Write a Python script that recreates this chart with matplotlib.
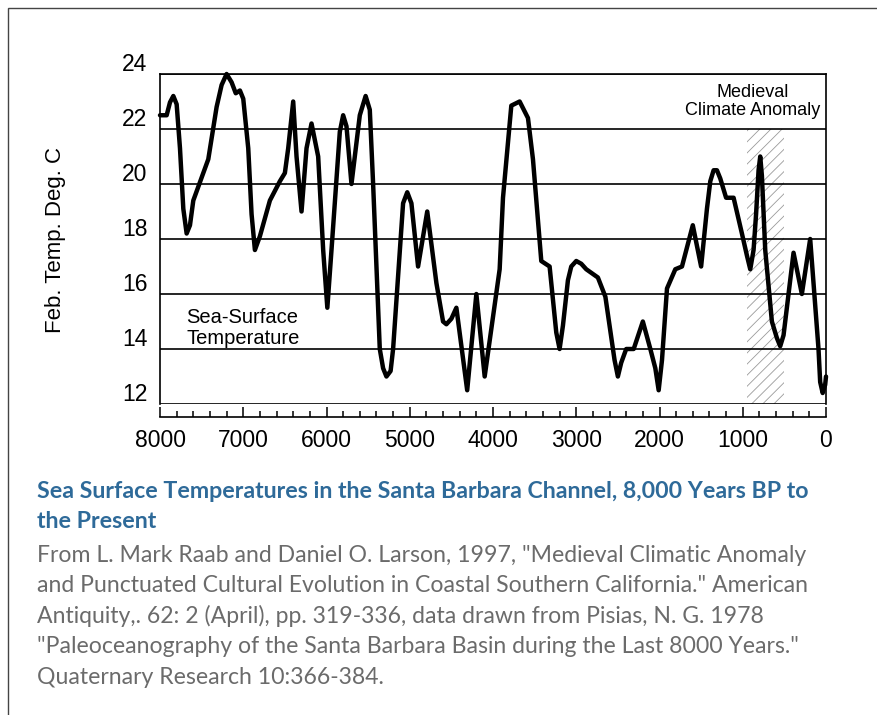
import numpy as np
import matplotlib
matplotlib.use("Agg")
import matplotlib.pyplot as plt
from matplotlib.transforms import ScaledTranslation
from matplotlib.patches import Rectangle

# years BP and February sea-surface temperature
years = [8000, 7920, 7880, 7840, 7800, 7760, 7720, 7680, 7640, 7600, 7420, 7320,
         7260, 7200, 7140, 7090, 7040, 7000, 6940, 6900, 6860, 6800, 6680, 6560,
         6500, 6460, 6400, 6360, 6300, 6240, 6180, 6100, 6040, 5990, 5940, 5840,
         5800, 5760, 5700, 5600, 5530, 5480, 5440, 5360, 5320, 5280, 5230, 5200,
         5080, 5030, 4980, 4900, 4790, 4680, 4600, 4560, 4500, 4440, 4310, 4200,
         4100, 3920, 3880, 3780, 3680, 3580, 3520, 3420, 3320, 3240, 3200, 3160,
         3100, 3060, 3000, 2940, 2880, 2740, 2650, 2540, 2500, 2460, 2400, 2310,
         2200, 2110, 2050, 2010, 1970, 1910, 1810, 1730, 1600, 1500, 1430, 1390,
         1350, 1310, 1270, 1200, 1110, 1010, 950, 910, 870, 840, 810, 790,
         770, 730, 650, 590, 550, 510, 390, 290, 190, 90, 70, 40, 10, 0]
temps = [22.5, 22.5, 22.97, 23.2, 22.9, 21.3, 19.1, 18.2, 18.5, 19.4, 20.9, 22.8,
         23.6, 24.0, 23.7, 23.3, 23.4, 23.1, 21.3, 18.9, 17.6, 18.1, 19.4, 20.1,
         20.4, 21.3, 23.0, 21.0, 19.0, 21.3, 22.2, 21.0, 17.6, 15.5, 17.6, 21.9,
         22.5, 22.1, 20.0, 22.5, 23.2, 22.7, 20.0, 14.0, 13.3, 13.0, 13.2, 14.0,
         19.3, 19.7, 19.3, 17.0, 19.0, 16.4, 15.0, 14.9, 15.1, 15.5, 12.5, 16.0,
         13.0, 16.9, 19.5, 22.85, 23.0, 22.4, 20.9, 17.2, 17.0, 14.6, 14.0, 14.85,
         16.5, 17.0, 17.2, 17.1, 16.9, 16.6, 15.9, 13.6, 13.0, 13.5, 14.0, 14.0,
         15.0, 14.0, 13.3, 12.5, 13.6, 16.2, 16.9, 17.0, 18.5, 17.0, 19.1, 20.1,
         20.5, 20.5, 20.2, 19.5, 19.5, 18.2, 17.4, 16.9, 17.6, 18.9, 20.5, 21.0,
         20.3, 17.6, 15.0, 14.4, 14.1, 14.5, 17.5, 16.0, 18.0, 14.0, 12.8, 12.4, 12.7, 13.0]

mca_years = [950, 500]      # Medieval Climate Anomaly band
mca_temps = [12, 22]
y_ticks = [12, 14, 16, 18, 20, 22, 24]
x_ticks = [8000, 7000, 6000, 5000, 4000, 3000, 2000, 1000, 0]

title_lines = ["Sea Surface Temperatures in the Santa Barbara Channel, 8,000 Years BP to",
               "the Present"]
body_lines = ['From L. Mark Raab and Daniel O. Larson, 1997, "Medieval Climatic Anomaly',
              'and Punctuated Cultural Evolution in Coastal Southern California." American',
              'Antiquity,. 62: 2 (April), pp. 319-336, data drawn from Pisias, N. G. 1978',
              '"Paleoceanography of the Santa Barbara Basin during the Last 8000 Years."',
              'Quaternary Research 10:366-384.']

plt.rcParams['font.family'] = ['Liberation Sans', 'DejaVu Sans']
plt.rcParams['hatch.linewidth'] = 0.6
plt.rcParams['hatch.color'] = '#9a9a9a'

W, H = 877, 715
fig = plt.figure(figsize=(W / 100, H / 100), dpi=100)

def fx(px):
    return px / W

def fy(py):
    return 1 - py / H

ax = fig.add_axes([fx(160), fy(404), fx(826) - fx(160), fy(74) - fy(404)])

# hatched band
ax.fill_between(mca_years, mca_temps[0], mca_temps[1], hatch='///',
                facecolor='none', edgecolor='#9a9a9a', linewidth=0, zorder=1)

for t in y_ticks:
    ax.axhline(t, color='black', lw=1.2, zorder=2)

ax.plot(years, temps, color='black', lw=3.2, solid_joinstyle='round',
        solid_capstyle='round', zorder=3, clip_on=False)

ax.set_xlim(8000, 0)
ax.set_ylim(12, 24)

for side in ['top', 'left', 'right']:
    ax.spines[side].set_linewidth(1.2)
ax.spines['bottom'].set_position(('outward', 9))
ax.spines['bottom'].set_linewidth(1.2)

ax.set_xticks(x_ticks)
ax.set_xticks(np.arange(0, 8001, 200), minor=True)
ax.tick_params(axis='x', which='major', direction='in', length=7, width=1.1,
               pad=9, labelsize=16.5)
ax.tick_params(axis='x', which='minor', direction='in', length=4, width=1.1)

ax.set_yticks(y_ticks)
ax.tick_params(axis='y', length=0, pad=9, labelsize=16.5)
shift = ScaledTranslation(0, 8.5 / 72, fig.dpi_scale_trans)
for lab in ax.get_yticklabels():
    lab.set_transform(lab.get_transform() + shift)

fig.text(fx(55), fy(240), 'Feb. Temp. Deg. C', rotation=90, ha='center',
         va='center', fontsize=16)

ax.text(7680, 15.15, 'Sea-Surface', fontsize=14.5, ha='left', va='center', zorder=4)
ax.text(7680, 14.4, 'Temperature', fontsize=14.5, ha='left', va='center', zorder=4)
ax.text(880, 23.0, 'Medieval\nClimate Anomaly', fontsize=13, ha='center',
        va='center', linespacing=1.1, zorder=4)

# outer frame of the page block
fig.patches.append(Rectangle((fx(8), -0.05), 1.2, fy(8) + 0.05, transform=fig.transFigure,
                             fill=False, edgecolor='#444444', lw=1.0))

# caption, each line sized to its width in the reference
renderer = fig.canvas.get_renderer()

def fit_line(txt, x0, base_y, width_px, color, weight, size0):
    t = fig.text(fx(x0), fy(base_y), txt, fontsize=size0, color=color,
                 fontweight=weight, family=['Lato', 'DejaVu Sans'], va='baseline')
    w = t.get_window_extent(renderer).width
    t.set_fontsize(size0 * width_px / w)
    return t

title_color = '#2e6a99'
body_color = '#6b6b6b'
t1 = fit_line(title_lines[0], 37, 498, 773, title_color, 'bold', 15)
fig.text(fx(37), fy(528), title_lines[1], fontsize=t1.get_fontsize(), color=title_color,
         fontweight='bold', family=['Lato', 'DejaVu Sans'], va='baseline')

b1 = fit_line(body_lines[0], 37, 562, 768, body_color, 'normal', 15)
body_size = b1.get_fontsize()
for i, line in enumerate(body_lines[1:]):
    fig.text(fx(37), fy(592 + 30.6 * i), line, fontsize=body_size, color=body_color,
             family=['Lato', 'DejaVu Sans'], va='baseline')

fig.savefig('out.png', dpi=100)
